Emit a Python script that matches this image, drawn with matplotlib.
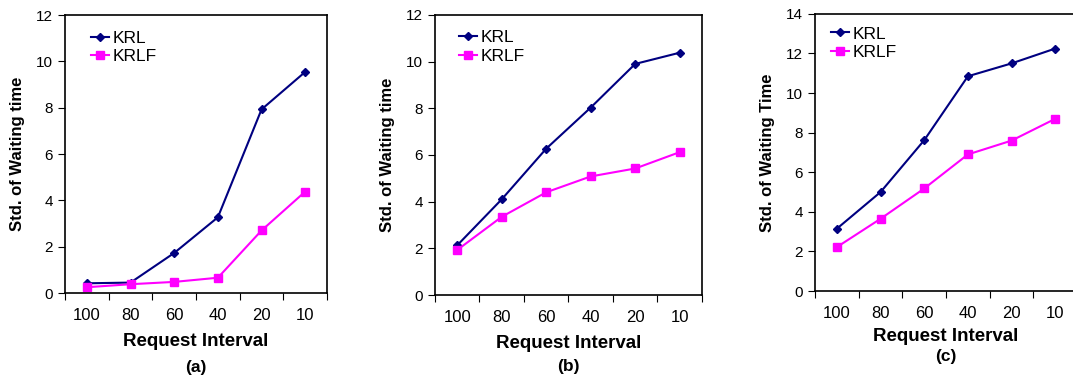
import matplotlib
matplotlib.use("Agg")
from matplotlib import pyplot as plt

plt.rcParams['font.family'] = ['Liberation Sans', 'DejaVu Sans']

intervals = ['100', '80', '60', '40', '20', '10']

krl_a = [0.42, 0.45, 1.73, 3.27, 7.93, 9.55]
krlf_a = [0.25, 0.38, 0.48, 0.66, 2.70, 4.38]

krl_b = [2.13, 4.10, 6.27, 8.03, 9.90, 10.38]
krlf_b = [1.93, 3.35, 4.40, 5.08, 5.42, 6.12]

krl_c = [3.15, 5.00, 7.62, 10.85, 11.50, 12.25]
krlf_c = [2.22, 3.65, 5.18, 6.90, 7.60, 8.70]

# data, ymax, ylabel, tag, axes rect, legend anchor, caption y, xlabel pad
panels = [
    (krl_a, krlf_a, 12, 'Std. of Waiting time', '(a)', [0.0606, 0.2207, 0.2442, 0.739], (0.10, 0.945), -0.24, 7),
    (krl_b, krlf_b, 12, 'Std. of Waiting time', '(b)', [0.4054, 0.2154, 0.2488, 0.745], (0.09, 0.945), -0.23, 7),
    (krl_c, krlf_c, 14, 'Std. of Waiting Time', '(c)', [0.7596, 0.2260, 0.2442, 0.737], (0.06, 0.955), -0.21, 5),
]

fig = plt.figure(figsize=(10.73, 3.76), dpi=100)

for krl, krlf, ymax, ylab, tag, pos, anchor, cap_y, xpad in panels:
    ax = fig.add_axes(pos)
    x = range(len(intervals))
    ax.plot(x, krl, color='#000080', marker='D', markersize=4, lw=1.5, label='KRL')
    ax.plot(x, krlf, color='#FF00FF', marker='s', markersize=6, lw=1.5, label='KRLF')
    ax.set_xlim(-0.5, len(intervals) - 0.5)
    ax.set_ylim(0, ymax)
    ax.set_yticks(range(0, ymax + 1, 2))
    # ticks between categories, labels centred on them
    ax.set_xticks([i - 0.5 for i in range(len(intervals) + 1)])
    ax.set_xticklabels([])
    ax.set_xticks(list(x), minor=True)
    ax.set_xticklabels(intervals, minor=True)
    ax.tick_params(axis='x', which='minor', length=0, pad=11, labelsize=12)
    ax.tick_params(axis='x', which='major', direction='out', length=5)
    ax.tick_params(axis='y', direction='out', length=5, labelsize=11)
    for s in ax.spines.values():
        s.set_linewidth(1.2)
    ax.set_ylabel(ylab, fontsize=12, fontweight='bold', labelpad=8)
    ax.set_xlabel('Request Interval', fontsize=13.5, fontweight='bold', labelpad=xpad)
    ax.text(0.5, cap_y, tag, transform=ax.transAxes, ha='center', va='top',
            fontsize=12.5, fontweight='bold')
    ax.legend(loc='upper left', frameon=False, fontsize=12.5, handlelength=1.05,
              handletextpad=0.2, borderpad=0, borderaxespad=0, labelspacing=0.2,
              bbox_to_anchor=anchor)

fig.savefig('out.png', dpi=100)
